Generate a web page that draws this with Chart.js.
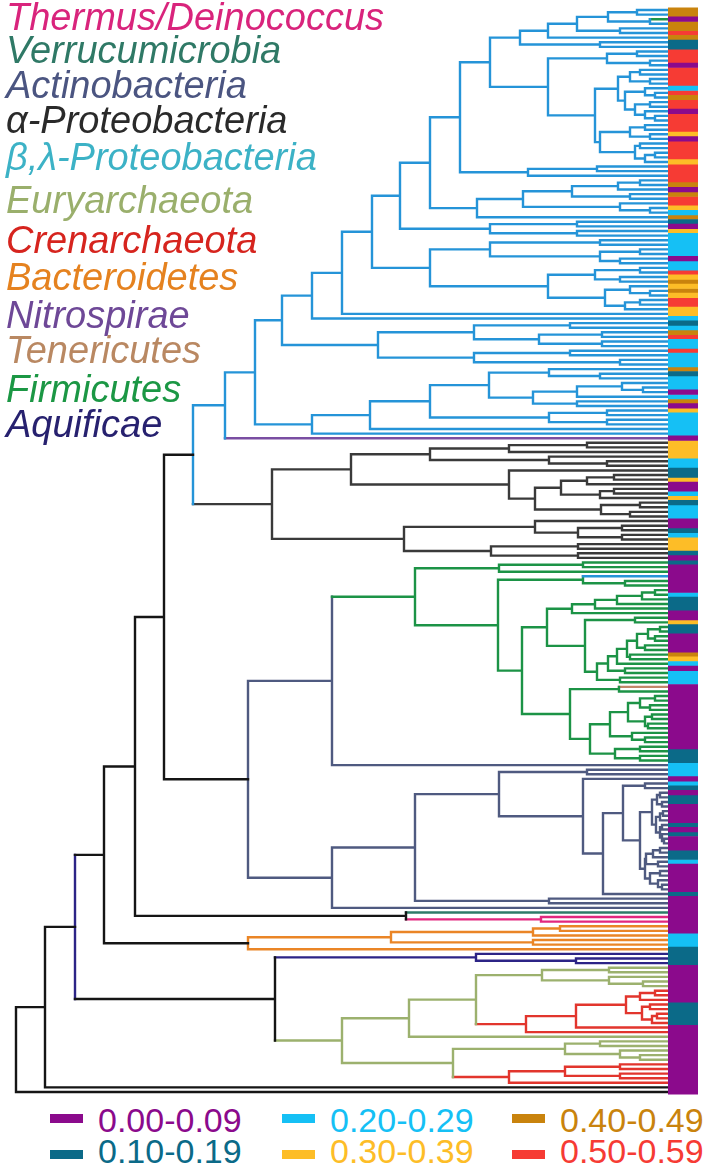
<!DOCTYPE html>
<html>
<head>
<meta charset="utf-8">
<title>Dendrogram by phylum</title>
<script src="https://cdn.jsdelivr.net/npm/chart.js@4.4.1/dist/chart.umd.min.js"></script>
<style>
  html, body { margin: 0; padding: 0; background: #fff; }
  #page { position: relative; width: 708px; height: 1167px; overflow: hidden; font-family: 'Liberation Sans', Arial, sans-serif; }
  #tree { position: absolute; left: 0; top: 0; }
  .taxon { position: absolute; left: 6px; font-size: 38px; line-height: 38px; font-style: italic; white-space: nowrap; }
  .bin { position: absolute; font-size: 34px; line-height: 34px; white-space: nowrap; }
  .swatch { position: absolute; width: 33px; height: 9px; }
</style>
</head>
<body>
<div id="page">
  <canvas id="tree" width="708" height="1100"></canvas>
  <div id="taxa"></div>
  <div id="key"></div>
</div>
<script>
// phyla named in the colour key, top to bottom, and the code used in the tree strings
var phyla      = ['Thermus/Deinococcus', 'Verrucumicrobia', 'Actinobacteria', 'α-Proteobacteria', 'β,λ-Proteobacteria', 'Euryarchaeota', 'Crenarchaeota', 'Bacteroidetes', 'Nitrospirae', 'Tenericutes', 'Firmicutes', 'Aquificae']
var phylaCodes = ['t', 'v', 's', 'a', 'b', 'e', 'c', 'o', 'p', 'm', 'g', 'n']

// value bins of the side strip
var binLabels = ['0.00-0.09', '0.10-0.19', '0.20-0.29', '0.30-0.39', '0.40-0.49', '0.50-0.59']

// bin of every leaf, top to bottom
var leafBins = [
  4,4,0,4,4,5,4,1,1,5, 5,5,0,5,5,5,5,2,5,4, 5,5,0,5,5,5,5,3,0,5, 5,5,5,3,5,5,5,5,4,0,
  4,5,5,3,2,4,1,0,3,2, 2,2,2,2,0,2,2,5,3,4, 3,4,3,5,5,3,3,2,1,2, 4,5,2,2,5,2,2,2,4,1,
  2,2,2,0,2,4,0,3,2,2, 2,2,2,0,3,3,3,3,2,2, 1,1,3,0,0,2,3,1,2,2, 2,0,0,1,2,3,3,3,1,0,
  1,0,0,0,0,0,0,2,1,1, 1,0,0,3,1,1,0,0,0,0, 4,3,2,0,2,2,2,0,0,0, 0,0,0,0,0,0,0,0,0,0,
  0,1,1,1,2,2,2,0,2,1, 0,1,1,0,0,0,0,1,0,1, 0,0,0,1,1,2,0,0,0,0, 0,0,1,0,0,0,0,0,0,0,
  0,2,2,2,1,1,1,1,0,0, 0,0,0,0,0,0,1,1,1,1, 1,0,0,0,0,0,0,0,0,0, 0,0,0,0,0,0
]

// tree pieces, newick-like: "." is a leaf of the enclosing clade, a letter a leaf of that phylum,
// ")NNN" the depth of a merge on the tree axis, then an optional phylum code and "^x" for the incoming edge
var betaTop1  = '(((((.,.)637,(g,.)650)608,(.,.)620)577,.)548,(.,.)600)520'
var betaTop2  = '(((.,.)637,(.,.)650)607,((((.,.)640,(.,.)650)630,((.,(.,.)655)645,((.,.)650,(.,(.,.)655)645)635)625)618,(((.,.)645,(.,.)650)630,((.,.)640,((.,.)655,.)645)635)600)595)548'
var betaTop3  = '((.,.)597,.)528'
var betaMid1  = '(((((.,.)640,.)618,(.,.)630)572,(.,(.,.)650)620)523,.)477'
var betaMid2  = '((.,.)577,(.,.)577)490'
var betaMid3  = '(((.,.)600,((.,.)640,(.,.)620)600)490,(((.,.)640,(.,.)620)595,((.,(.,.)650)630,((.,.)640,.)625)605)548)430'
var betaLow1  = '(((.,.)570,((.,.)602,(.,.)602)539)474,((.,.)570,(.,.)620)474)378'
var betaLow2  = '(((((.,(.,.)600)549,(((.,(.,.)643)622,.)577,(.,.)577)533)489,((.,.)607,(.,.)607)549)430,.)370,.)312'

var alphaUp   = '(((.,.)587,.)509,(.,(.,.)607)549)430'
var alphaMid  = '(.,((((.,.)614,.)587,((.,.)614,.)600)561,((.,.)640,(.,.)630)601)535)509'
var alphaLow  = '((.,((.,.)622,(.,.)622)578)535,((.,.)578,(.,.)578)491)404'

var firmTop   = '((.,.)583,.)499'
var firmBlue  = '(b,(.,.)625)583'
var firmLad1  = '(((((.,.)655,.)642,.)617,.)595,.)572'
var firmLad2  = '((.,.)635,(((((((.,.)660,(.,.)655)648,(.,.)645)637,(.,.)630)627,.)617,(.,.)625)608,(.,.)620)597)585'
var firmTene  = '(m,.)619'
var firmLow1  = '((((.,.)655,(.,.)650)640,((.,.)652,(.,.)648)645)628,(.,(.,.)645)632)610'
var firmLow2  = '((.,.)640,(.,.)640)615'

var actinoA   = '(((.,.)660,(.,.)662)657,(((.,.)663,.)660,((.,.)662,(.,(.,.)664)662)660)656)652'
var actinoB   = '((((.,.)660,.)653,(.,.)658)646,((.,.)660,(.,(.,.)662)658)650)645'

var thermus   = '(v,(.,.)541t)406'
var bacter    = '((((.,.)560,.)533,(.,.)533)391,.)248o^k'
var aquif     = '(.,(.,.)576)476n'
var euryTop   = '((.,.)609,(.,(.,.)643)609)542'
var cren1     = '(((((.,.)655,.)640,((.,.)650,((.,.)657,.)652)642)626,.)576,.)526c'
var euryLow   = '((.,.)600,(.,(.,.)640)620)565'
var cren2     = '(((.,.)620,(.,.)620)565,.)509c'

var tipDepth = 668

// styles
var branchColors = {
    k : '#151515', a : '#3a3a3a', b : '#2594d8', p : '#7a4ea2', g : '#1c9346', m : '#c2876a'
  , s : '#4f5a80', v : '#2e7b68', t : '#e2287f', o : '#ea8526', n : '#2c2486', e : '#9cb16e', c : '#e2352d'
}
var labelColors = {
    t : '#d9247c', v : '#2f7966', s : '#4b5581', a : '#2a2a2a', b : '#3cb2c6', e : '#9aaf6c'
  , c : '#d6241e', o : '#e5821f', p : '#6e4897', m : '#b98862', g : '#1b9744', n : '#27216f'
}
var binColors  = ['#8b0a8c', '#0b6a88', '#15c0f5', '#fdbd27', '#c9830d', '#f63b34']
var taxonTops  = [-2, 31, 66, 101, 138, 181, 221, 258, 296, 331, 370, 405]
var keyCols    = [50, 282, 512]
var keyRows    = [{ swatch : 1114, text : 1103 }, { swatch : 1150, text : 1134 }]
var stripFrom  = 668, stripTo = 698
var firstLeafPx = 10, lastLeafPx = 1092

// assemble the full tree
var join = function (a, b, label) { return '(' + a + ',' + b + ')' + label }

var beta = join(join(join(join(join(join(join(join(join(betaTop1, betaTop2, '490'), betaTop3, '460'), betaMid1, '430'), betaMid2, '400'), betaMid3, '372'), '.', '342'), '.', '312'), betaLow1, '282'), betaLow2, '255b')
var alpha = join(join(alphaUp, alphaMid, '351'), alphaLow, '272a')
var firm = join(firmTop, join(firmBlue, join(join(firmLad1, firmLad2, '547'), join(firmTene, join(firmLow1, firmLow2, '590'), '570'), '522'), '498'), '415g')
var actino = join(join(join('(.,.)587', join('.', join(join('(.,.)645', join(actinoA, actinoB, '640'), '623'), '.', '603'), '583'), '499'), '(.,.)549', '415'), '.', '332s')
var archaea = join(join(join(euryTop, cren1, '476'), '.', '409'), join(euryLow, cren2, '453'), '342e')

var treeString = join(join(join(join(join(join(join(join(beta, 'p', '225b'), alpha, '193b^k'), join(join(firm, '.', '332s'), actino, '248s^k'), '164k'), thermus, '135'), bacter, '104k'), join(aquif, archaea, '275k'), '75n^k'), '.', '45k'), '.', '16k')

var parseTree = function (str) {
  var pos = 0
  var read = function () {
    var node = { children : [] }
    if (str.charAt(pos) === '(') {
      pos++
      do { node.children.push(read()) } while (str.charAt(pos++) === ',')
      var m = /^(\d+)([a-z]?)(?:\^([a-z]))?/.exec(str.slice(pos))
      pos += m[0].length
      node.depth = +m[1]
      node.code  = m[2] || null
      node.edge  = m[3] || null
    } else {
      node.code = str.charAt(pos) === '.' ? null : str.charAt(pos)
      pos++
    }
    return node
  }
  return read()
}

var root = parseTree(treeString)
var leaves = []

var place = function (node, inherited) {
  node.color = node.code || inherited
  if (!node.children.length) {
    node.y = leaves.length
    node.depth = tipDepth
    leaves.push(node)
    return
  }
  node.children.forEach(function (c) { place(c, node.color) })
  node.y = (node.children[0].y + node.children[node.children.length - 1].y) / 2
}
place(root, 'k')
if (leaves.length !== leafBins.length) console.warn('leaf count', leaves.length, leafBins.length)

var segments = {}
var addSegment = function (code, x0, y0, x1, y1) {
  (segments[code] = segments[code] || []).push({ x : x0, y : y0 }, { x : x1, y : y1 }, { x : null, y : null })
}
var walk = function (node) {
  if (!node.children.length) return
  var first = node.children[0], last = node.children[node.children.length - 1]
  addSegment(node.color, node.depth, first.y, node.depth, last.y)
  node.children.forEach(function (c) {
    addSegment(c.edge || c.color, node.depth, c.y, c.depth, c.y)
    walk(c)
  })
}
walk(root)

var datasets = []
Object.keys(segments).forEach(function (code) {
  datasets.push({
      data             : segments[code]
    , borderColor      : branchColors[code]
    , borderWidth      : 2.4
    , borderCapStyle   : 'square'
    , borderJoinStyle  : 'miter'
    , pointRadius      : 0
    , pointHitRadius   : 0
    , spanGaps         : false
    , tension          : 0
    , fill             : false
    , order            : 1
  })
})

// side strip, one cell per leaf
var leafStep = (lastLeafPx - firstLeafPx) / (leaves.length - 1)
binColors.forEach(function (color, b) {
  var pts = []
  leafBins.forEach(function (bin, i) {
    if (bin === b) pts.push({ x : stripFrom, y : i }, { x : stripTo, y : i }, { x : null, y : null })
  })
  datasets.push({
      data           : pts
    , borderColor    : color
    , borderWidth    : leafStep + 0.6
    , borderCapStyle : 'butt'
    , pointRadius    : 0
    , pointHitRadius : 0
    , spanGaps       : false
    , fill           : false
    , order          : 0
  })
})

var canvas = document.getElementById('tree')
var H = canvas.height
var yRange = (leaves.length - 1) * H / (lastLeafPx - firstLeafPx)
var yMin = -firstLeafPx * yRange / H

new Chart(canvas, {
    type : 'line'
  , data : { datasets : datasets }
  , options : {
        responsive  : false
      , animation   : false
      , events      : []
      , layout      : { padding : 0 }
      , plugins     : { legend : { display : false }, tooltip : { enabled : false } }
      , scales      : {
            x : { type : 'linear', display : false, min : 0, max : canvas.width }
          , y : { type : 'linear', display : false, reverse : true, min : yMin, max : yMin + yRange }
        }
    }
})

// phylum names
var taxa = document.getElementById('taxa')
phyla.forEach(function (name, i) {
  var el = document.createElement('div')
  el.className = 'taxon'
  el.textContent = name
  el.style.top = taxonTops[i] + 'px'
  el.style.color = labelColors[phylaCodes[i]]
  taxa.appendChild(el)
})

// bin key, two rows by three columns
var key = document.getElementById('key')
binLabels.forEach(function (label, i) {
  var col = keyCols[Math.floor(i / 2)], row = keyRows[i % 2]
  var sw = document.createElement('div')
  sw.className = 'swatch'
  sw.style.left = col + 'px'
  sw.style.top = row.swatch + 'px'
  sw.style.background = binColors[i]
  var tx = document.createElement('div')
  tx.className = 'bin'
  tx.textContent = label
  tx.style.left = (col + 48) + 'px'
  tx.style.top = row.text + 'px'
  tx.style.color = binColors[i]
  key.appendChild(sw)
  key.appendChild(tx)
})
</script>
</body>
</html>
